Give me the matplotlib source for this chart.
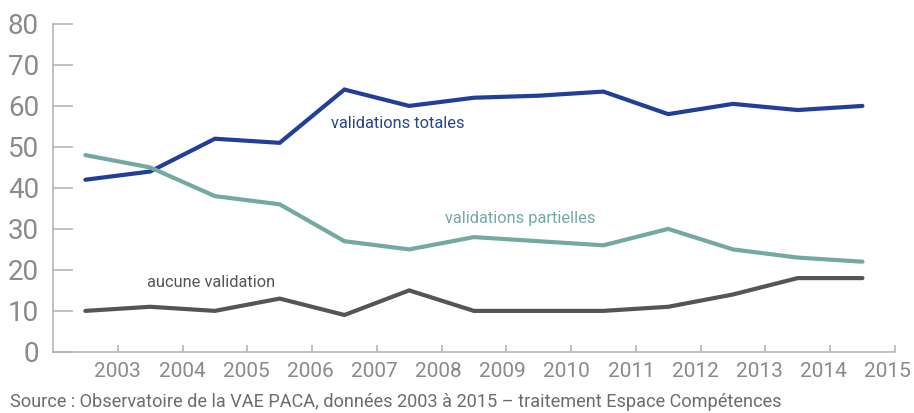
import matplotlib.pyplot as plt
import matplotlib.transforms as mtransforms
import numpy as np

# data
years = [2003, 2004, 2005, 2006, 2007, 2008, 2009, 2010, 2011, 2012, 2013, 2014, 2015]
totales = [42, 44, 52, 51, 64, 60, 62, 62.5, 63.5, 58, 60.5, 59, 60]
partielles = [48, 45, 38, 36, 27, 25, 28, 27, 26, 30, 25, 23, 22]
aucune = [10, 11, 10, 13, 9, 15, 10, 10, 10, 11, 14, 18, 18]
y_ticks = [0, 10, 20, 30, 40, 50, 60, 70, 80]

c_blue = "#213e98"
c_teal = "#74a9a2"
c_gray = "#555557"
c_axis = "#b0b0b0"
c_text = "#8a8a8c"
c_source = "#6c6c6e"

plt.rcParams["font.family"] = ["Roboto", "DejaVu Sans"]

fig = plt.figure(figsize=(9.14, 4.13), dpi=100)
ax = fig.add_axes([0.058, 0.148, 0.921, 0.794])

# points sit halfway between the year ticks
x = np.array(years) - 0.5
ax.plot(x, totales, c=c_blue, linewidth=3, solid_capstyle="round", solid_joinstyle="miter")
ax.plot(x, partielles, c=c_teal, linewidth=3, solid_capstyle="round", solid_joinstyle="miter")
ax.plot(x, aucune, c=c_gray, linewidth=3, solid_capstyle="round", solid_joinstyle="miter")

ax.set_xlim(2002, 2015)
ax.set_ylim(0, 80)
ax.set_xticks(years)
ax.set_xticklabels([str(y) for y in years])
ax.set_yticks(y_ticks)

for side in ["top", "right"]:
    ax.spines[side].set_visible(False)
for side in ["left", "bottom"]:
    ax.spines[side].set_color(c_axis)
    ax.spines[side].set_linewidth(1.1)

ax.tick_params(axis="y", direction="in", length=14.4, width=1.1, color=c_axis,
               labelcolor=c_text, labelsize=20, pad=10)
ax.tick_params(axis="x", direction="in", length=5, width=1.1, color=c_axis,
               labelcolor=c_text, labelsize=15, pad=7.5)

# year labels drift a little to the left, so the last one stays inside the figure
for i, lab in enumerate(ax.get_xticklabels()):
    shift = mtransforms.ScaledTranslation(-0.6 * i / 100, 0, fig.dpi_scale_trans)
    lab.set_transform(lab.get_transform() + shift)

ax.text(2006.3, 55.6, "validations totales", color="#27448f", fontsize=11.8, va="center")
ax.text(2008.05, 32.6, "validations partielles", color=c_teal, fontsize=11.8, va="center")
ax.text(2003.45, 17, "aucune validation", color=c_gray, fontsize=11.8, va="center")

fig.text(0.011, 0.004, "Source : Observatoire de la VAE PACA, données 2003 à 2015 – traitement Espace Compétences",
         color=c_source, fontsize=13.1, va="bottom")

fig.savefig("out.png", dpi=100)
plt.close()
